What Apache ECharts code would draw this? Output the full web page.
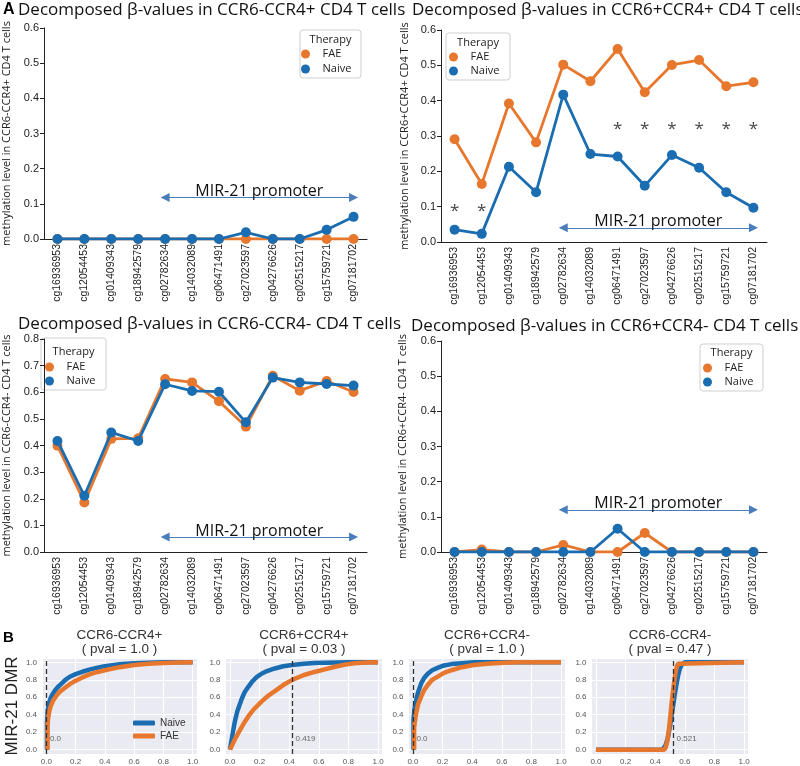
<!DOCTYPE html>
<html><head><meta charset="utf-8">
<script src="https://cdn.jsdelivr.net/npm/echarts@6/dist/echarts.min.js"></script>
<style>html,body{margin:0;padding:0;background:#fff}#c{width:800px;height:766px}</style>
</head><body><div id="c"></div><script>
// ---------- DATA ----------
const categories = ['cg16936953','cg12054453','cg01409343','cg18942579','cg02782634','cg14032089','cg06471491','cg27023597','cg04276626','cg02515217','cg15759721','cg07181702'];
const yTickStepA = 0.1;
// CCR6-CCR4+
const ccr6nCcr4pFAE   = [0,0,0,0,0,0,0,0,0,0,0,0];
const ccr6nCcr4pNaive = [0,0,0,0,0,0,0,0.019,0,0,0.026,0.063];
// CCR6+CCR4+
const ccr6pCcr4pFAE   = [0.291,0.164,0.392,0.282,0.502,0.455,0.546,0.424,0.501,0.515,0.441,0.452];
const ccr6pCcr4pNaive = [0.035,0.023,0.213,0.141,0.417,0.249,0.242,0.159,0.246,0.210,0.141,0.097];
// CCR6-CCR4-
const ccr6nCcr4nFAE   = [0.399,0.186,0.425,0.427,0.650,0.637,0.566,0.471,0.662,0.606,0.642,0.601];
const ccr6nCcr4nNaive = [0.417,0.211,0.449,0.417,0.630,0.605,0.602,0.487,0.655,0.637,0.631,0.625];
// CCR6+CCR4-
const ccr6pCcr4nFAE   = [0,0.007,0,0,0.020,0,0,0.054,0,0,0,0];
const ccr6pCcr4nNaive = [0,0,0,0,0,0,0.066,0,0,0,0,0];
// significance asterisks (CCR6+CCR4+ panel)
const asteriskPoints = [['cg16936953',0.10],['cg12054453',0.10],['cg06471491',0.33],['cg27023597',0.33],['cg04276626',0.33],['cg02515217',0.33],['cg15759721',0.33],['cg07181702',0.33]];
// promoter span and arrow level per panel
const promoterSpan = ['cg02782634','cg07181702'];
const promoterArrowY = [0.118, 0.040, 0.056, 0.120];
const yMaxA = [0.6, 0.6, 0.8, 0.6];

// Panel B: cumulative curves (x, y)
const bTitles = ['CCR6-CCR4+\n( pval = 1.0 )','CCR6+CCR4+\n( pval = 0.03 )','CCR6+CCR4-\n( pval = 1.0 )','CCR6-CCR4-\n( pval = 0.47 )'];
const bThresholds = [0.0, 0.419, 0.0, 0.521];
const bThresholdLabels = ['0.0','0.419','0.0','0.521'];
const naiveB1 = [[0.004,0],[0.004,0.30],[0.008,0.42],[0.015,0.51],[0.025,0.575],[0.04,0.63],[0.06,0.68],[0.08,0.72],[0.1,0.75],[0.13,0.80],[0.16,0.835],[0.2,0.865],[0.25,0.895],[0.3,0.92],[0.35,0.94],[0.4,0.957],[0.5,0.978],[0.6,0.99],[0.7,0.997],[0.8,1.0],[1.0,1.0]];
const faeB1   = [[0.008,0],[0.008,0.28],[0.012,0.36],[0.02,0.44],[0.03,0.50],[0.045,0.56],[0.065,0.61],[0.09,0.66],[0.12,0.70],[0.16,0.75],[0.2,0.79],[0.25,0.83],[0.3,0.865],[0.35,0.89],[0.4,0.91],[0.5,0.945],[0.6,0.97],[0.7,0.985],[0.8,0.994],[0.9,0.998],[1.0,1.0]];
const naiveB2 = [[0,0],[0.01,0.1],[0.02,0.2],[0.034,0.33],[0.05,0.44],[0.079,0.58],[0.1,0.66],[0.124,0.72],[0.15,0.78],[0.18,0.83],[0.213,0.87],[0.25,0.9],[0.303,0.93],[0.36,0.955],[0.42,0.97],[0.5,0.985],[0.57,0.992],[0.65,0.997],[0.8,1.0],[1.0,1.0]];
const faeB2   = [[0,0],[0.02,0.07],[0.034,0.12],[0.06,0.2],[0.09,0.29],[0.124,0.38],[0.16,0.46],[0.213,0.55],[0.26,0.62],[0.303,0.67],[0.36,0.74],[0.42,0.80],[0.5,0.855],[0.57,0.89],[0.64,0.92],[0.71,0.95],[0.78,0.975],[0.84,0.99],[0.92,0.998],[1.0,1.0]];
const naiveB3 = [[0.004,0],[0.004,0.35],[0.01,0.46],[0.022,0.57],[0.035,0.66],[0.056,0.76],[0.075,0.82],[0.1,0.87],[0.13,0.91],[0.17,0.94],[0.21,0.965],[0.26,0.98],[0.33,0.99],[0.41,1.0],[1.0,1.0]];
const faeB3   = [[0.008,0],[0.008,0.25],[0.014,0.33],[0.022,0.42],[0.035,0.52],[0.056,0.61],[0.075,0.68],[0.1,0.74],[0.13,0.80],[0.17,0.84],[0.21,0.88],[0.26,0.91],[0.33,0.945],[0.41,0.97],[0.5,0.985],[0.61,0.995],[0.7,1.0],[1.0,1.0]];
const naiveB4 = [[0,0],[0.44,0],[0.455,0.01],[0.47,0.05],[0.485,0.13],[0.5,0.27],[0.51,0.38],[0.521,0.5],[0.533,0.64],[0.545,0.76],[0.555,0.85],[0.567,0.93],[0.578,0.97],[0.59,0.99],[0.6,1.0],[1.0,1.0]];
const faeB4   = [[0,0],[0.462,0],[0.472,0.03],[0.482,0.1],[0.492,0.22],[0.502,0.38],[0.512,0.55],[0.521,0.68],[0.53,0.8],[0.538,0.89],[0.546,0.95],[0.555,0.985],[0.565,1.0],[1.0,1.0]];

// ---------- STYLE / LAYOUT ----------
const ORANGE = '#e8772e', BLUE = '#1a6db0';
const FONT = "'Open Sans', 'Liberation Sans', sans-serif";
const AFONT = "'Liberation Sans', Arial, sans-serif";

const panelsA = [
  {title:'Decomposed β-values in CCR6-CCR4+ CD4 T cells', yName:'methylation level in CCR6-CCR4+ CD4 T cells', fae:ccr6nCcr4pFAE, naive:ccr6nCcr4pNaive,
   grid:{left:40, top:28, width:327, height:211}, titlePos:{left:18, top:2}, nameGap:32,
   box:[300,30,61,48], legend:{left:301, top:48.5, itemGap:4}, therapyY:40},
  {title:'Decomposed β-values in CCR6+CCR4+ CD4 T cells', yName:'methylation level in CCR6+CCR4+ CD4 T cells', fae:ccr6pCcr4pFAE, naive:ccr6pCcr4pNaive,
   grid:{left:441, top:30, width:326, height:212}, titlePos:{left:412, top:2}, nameGap:31,
   box:[446,33,64,47], legend:{left:449, top:51.5, itemGap:3}, therapyY:43},
  {title:'Decomposed β-values in CCR6-CCR4- CD4 T cells', yName:'methylation level in CCR6-CCR4- CD4 T cells', fae:ccr6nCcr4nFAE, naive:ccr6nCcr4nNaive,
   grid:{left:39, top:339, width:328, height:213}, titlePos:{left:18, top:316}, nameGap:32,
   box:[41,338,65,52], legend:{left:45, top:361.5, itemGap:3}, therapyY:352},
  {title:'Decomposed β-values in CCR6+CCR4- CD4 T cells', yName:'methylation level in CCR6+CCR4- CD4 T cells', fae:ccr6pCcr4nFAE, naive:ccr6pCcr4nNaive,
   grid:{left:441, top:341, width:326, height:211}, titlePos:{left:411, top:318}, nameGap:33,
   box:[700,344,63,47], legend:{left:703, top:362.5, itemGap:3}, therapyY:353}
];
const panelsB = [
  {naive:naiveB1, fae:faeB1, grid:{left:42, top:658, width:155, height:96.5}},
  {naive:naiveB2, fae:faeB2, grid:{left:225.5, top:658, width:157, height:96.5}},
  {naive:naiveB3, fae:faeB3, grid:{left:408.5, top:658, width:157, height:96.5}},
  {naive:naiveB4, fae:faeB4, grid:{left:591.5, top:658, width:157, height:96.5}}
];

const grid = [], xAxis = [], yAxis = [], series = [], title = [], legend = [], graphic = [];

title.push({text:'A', left:3, top:2, padding:0, textStyle:{fontSize:16, fontWeight:'bold', fontFamily:AFONT, color:'#000'}});
title.push({text:'B', left:3, top:630, padding:0, textStyle:{fontSize:15, fontWeight:'bold', fontFamily:AFONT, color:'#000'}});

panelsA.forEach((p, i) => {
  grid.push(Object.assign({containLabel:false}, p.grid));
  title.push({text:p.title, left:p.titlePos.left, top:p.titlePos.top, padding:0,
    textStyle:{fontSize:17, fontWeight:'normal', fontFamily:FONT, color:'#111'}});
  xAxis.push({type:'category', gridIndex:i, data:categories, boundaryGap:true,
    axisLine:{lineStyle:{color:'#222', width:1}},
    axisTick:{alignWithLabel:true, length:4, lineStyle:{color:'#222'}},
    axisLabel:{interval:0, rotate:90, fontSize:10.5, fontFamily:AFONT, color:'#222', margin:5, overflow:'none', hideOverlap:false},
    splitLine:{show:false}});
  yAxis.push({type:'value', gridIndex:i, min:0, max:yMaxA[i], interval:yTickStepA,
    name:p.yName, nameLocation:'middle', nameRotate:90, nameGap:p.nameGap,
    nameTextStyle:{fontSize:11, fontFamily:FONT, color:'#222'},
    axisLine:{show:true, lineStyle:{color:'#222', width:1}},
    axisTick:{show:true, length:4, lineStyle:{color:'#222'}},
    axisLabel:{fontSize:11, fontFamily:AFONT, color:'#222', margin:5, formatter:v => v.toFixed(1)},
    splitLine:{show:false}});
  const common = {type:'line', xAxisIndex:i, yAxisIndex:i, symbol:'circle', symbolSize:10, showSymbol:true,
    emphasis:{disabled:true}};
  series.push(Object.assign({}, common, {name:'FAE', data:p.fae, itemStyle:{color:ORANGE}, lineStyle:{width:2.8, color:ORANGE}, z:2}));
  series.push(Object.assign({}, common, {name:'Naive', data:p.naive, itemStyle:{color:BLUE}, lineStyle:{width:2.8, color:BLUE}, z:3,
    markLine:{silent:true, symbol:['triangle','triangle'], symbolSize:9, animation:false,
      lineStyle:{color:'#4a7ebb', width:1, type:'solid'},
      label:{show:true, position:'insideMiddleTop', distance:-2, formatter:'MIR-21 promoter', fontSize:16, fontFamily:FONT, color:'#111'},
      data:[[{coord:[promoterSpan[0], promoterArrowY[i]]},{coord:[promoterSpan[1], promoterArrowY[i]]}]]}}));
  if (i === 1) {
    series.push({type:'scatter', name:'significance', xAxisIndex:i, yAxisIndex:i, data:asteriskPoints,
      symbolSize:1, itemStyle:{color:'rgba(0,0,0,0)'}, silent:true,
      label:{show:true, formatter:'*', position:'inside', offset:[0,4], fontSize:17, fontFamily:FONT, color:'#111'}});
  }
  legend.push({orient:'vertical', left:p.legend.left, top:p.legend.top, itemGap:p.legend.itemGap, padding:0,
    icon:'circle', itemWidth:24, itemHeight:9, data:['FAE','Naive'],
    textStyle:{fontSize:11, fontFamily:FONT, color:'#222'}});
  const b = p.box;
  graphic.push({type:'rect', shape:{x:b[0], y:b[1], width:b[2], height:b[3], r:3}, style:{fill:'rgba(255,255,255,0.85)', stroke:'#cfcfcf', lineWidth:1}, z:-1, silent:true});
  graphic.push({type:'text', x:b[0]+b[2]/2, y:p.therapyY, style:{text:'Therapy', fontSize:11, fontFamily:FONT, fill:'#222', align:'center', verticalAlign:'middle'}, silent:true});
});

panelsB.forEach((p, k) => {
  const gi = 4 + k;
  grid.push(Object.assign({show:true, backgroundColor:'#eaeaf2', borderWidth:0}, p.grid));
  const cx = p.grid.left + p.grid.width/2;
  title.push({text:bTitles[k], left:cx, top:628, padding:0, textAlign:'center',
    textStyle:{fontSize:13.5, lineHeight:14, fontWeight:'normal', fontFamily:AFONT, color:'#333'}});
  const tickFmt = v => (Math.abs(v*5 - Math.round(v*5)) < 1e-6) ? v.toFixed(1) : '';
  xAxis.push({type:'value', gridIndex:gi, min:-0.03, max:1.03, splitNumber:5,
    axisLine:{show:false}, axisTick:{show:false},
    axisLabel:{showMinLabel:false, showMaxLabel:false, fontSize:8, fontFamily:AFONT, color:'#555', margin:4, formatter:tickFmt},
    splitLine:{show:true, lineStyle:{color:'#ffffff', width:1}}});
  yAxis.push({type:'value', gridIndex:gi, min:-0.05, max:1.05, splitNumber:5,
    axisLine:{show:false}, axisTick:{show:false},
    axisLabel:{showMinLabel:false, showMaxLabel:false, fontSize:8, fontFamily:AFONT, color:'#555', margin:5, formatter:tickFmt},
    splitLine:{show:true, lineStyle:{color:'#ffffff', width:1}}});
  series.push({type:'line', name:'Naive', xAxisIndex:gi, yAxisIndex:gi, data:p.naive, showSymbol:false, symbol:'none',
    lineStyle:{width:4.5, color:BLUE}, itemStyle:{color:BLUE}, z:2, emphasis:{disabled:true}});
  series.push({type:'line', name:'FAE', xAxisIndex:gi, yAxisIndex:gi, data:p.fae, showSymbol:false, symbol:'none',
    lineStyle:{width:4.5, color:ORANGE}, itemStyle:{color:ORANGE}, z:3, emphasis:{disabled:true},
    markLine:{silent:true, symbol:'none', animation:false, z:6,
      lineStyle:{color:'#333', width:1.3, type:[5,3]}, label:{show:false},
      data:[{xAxis:bThresholds[k]}]}});
  series.push({type:'scatter', name:'threshold', xAxisIndex:gi, yAxisIndex:gi, data:[[bThresholds[k], 0.12]],
    symbolSize:1, itemStyle:{color:'rgba(0,0,0,0)'}, silent:true, z:7,
    label:{show:true, position:'right', distance:3, formatter:bThresholdLabels[k], fontSize:8, fontFamily:AFONT, color:'#444'}});
});

legend.push({orient:'vertical', left:133, top:718, itemGap:3, padding:0, icon:'roundRect', itemWidth:22, itemHeight:5,
  data:['Naive','FAE'], textStyle:{fontSize:10, fontFamily:AFONT, color:'#333'}});

graphic.push({type:'text', x:12, y:706, rotation:Math.PI/2,
  style:{text:'MIR-21 DMR', fontSize:17, fontFamily:AFONT, fill:'#222', align:'center', verticalAlign:'middle'}, silent:true});

const chart = echarts.init(document.getElementById('c'), null, {renderer:'canvas'});
chart.setOption({animation:false, backgroundColor:'#fff', title, grid, xAxis, yAxis, series, legend, graphic});
</script></body></html>
